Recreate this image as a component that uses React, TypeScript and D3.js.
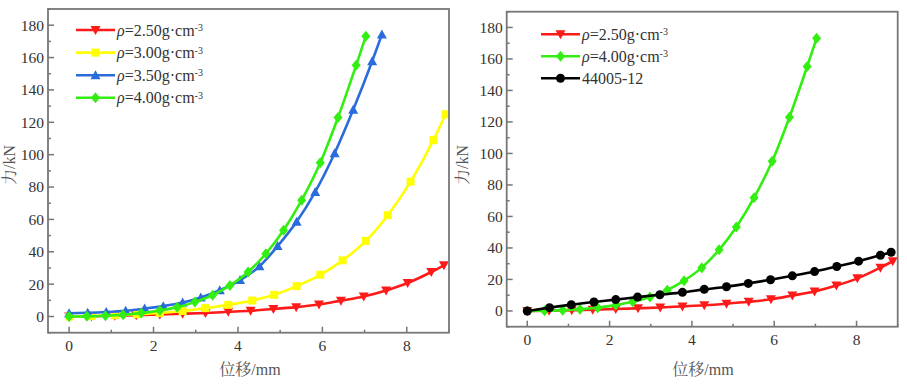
import React from "react";
import * as d3 from "d3";

const redX = [0, 0.53, 1.08, 1.59, 2.15, 2.69, 3.23, 3.77, 4.30, 4.84, 5.38, 5.92, 6.44, 6.98, 7.51, 8.02, 8.58, 8.88];
const redY = [0, 0.2, 0.5, 0.8, 1.2, 1.7, 2.2, 2.9, 3.6, 4.6, 5.8, 7.4, 9.8, 12.4, 16.1, 20.7, 27.5, 31.6];
const yellowX = [0, 0.53, 1.08, 1.61, 2.15, 2.69, 3.23, 3.77, 4.34, 4.86, 5.39, 5.95, 6.48, 7.03, 7.55, 8.09, 8.63, 8.92];
const yellowY = [0, 0.3, 0.8, 1.4, 2.2, 3.4, 5.2, 7.2, 9.9, 13.4, 18.8, 25.8, 34.7, 46.7, 62.6, 83.3, 109, 125];
const blueX = [0, 0.44, 0.88, 1.34, 1.79, 2.23, 2.69, 3.12, 3.57, 4.05, 4.51, 4.94, 5.39, 5.83, 6.29, 6.73, 7.18, 7.41];
const blueY = [2.0, 2.3, 2.8, 3.6, 4.9, 6.4, 8.6, 11.8, 16.2, 22.5, 31.0, 43.5, 58.5, 77, 100.9, 127.7, 157.7, 174.2];
const greenX = [0, 0.42, 0.86, 1.28, 1.71, 2.15, 2.56, 2.98, 3.40, 3.81, 4.24, 4.66, 5.08, 5.51, 5.95, 6.37, 6.80, 7.03];
const greenY = [0, 0.1, 0.5, 1.1, 2.1, 3.7, 5.8, 8.9, 13.2, 19.2, 27.5, 38.8, 53.3, 71.9, 95, 123, 155.2, 173.2];
const blackX = [0, 0.54, 1.07, 1.62, 2.15, 2.68, 3.22, 3.77, 4.30, 4.84, 5.37, 5.91, 6.44, 6.98, 7.52, 8.05, 8.58, 8.84];
const blackY = [0, 2.1, 4.0, 5.7, 7.2, 8.8, 10.3, 11.8, 13.7, 15.4, 17.5, 19.8, 22.3, 25.0, 28.2, 31.6, 35.4, 37.3];

const xTicks = [0, 2, 4, 6, 8];
const yTicks = [0, 20, 40, 60, 80, 100, 120, 140, 160, 180];
const xMinor = [1, 3, 5, 7, 9];
const yMinor = [-10, 10, 30, 50, 70, 90, 110, 130, 150, 170, 190];

const xTitle = "位移/mm";
const yTitle = "力/kN";

type Series = { name: string; sub?: string; xs: number[]; ys: number[]; color: string; marker: string };

const sRed: Series = { name: "=2.50g·cm", sub: "-3", xs: redX, ys: redY, color: "#ff1a1a", marker: "down" };
const sYellow: Series = { name: "=3.00g·cm", sub: "-3", xs: yellowX, ys: yellowY, color: "#ffff00", marker: "square" };
const sBlue: Series = { name: "=3.50g·cm", sub: "-3", xs: blueX, ys: blueY, color: "#2a6cdc", marker: "up" };
const sGreen: Series = { name: "=4.00g·cm", sub: "-3", xs: greenX, ys: greenY, color: "#33ee11", marker: "diamond" };
const sBlack: Series = { name: "44005-12", xs: blackX, ys: blackY, color: "#000000", marker: "circle" };

const FAM = "Liberation Serif, Noto Serif CJK SC, Noto Sans CJK SC";

function Marker({ type, x, y, color }: { type: string; x: number; y: number; color: string }) {
  const r = 4.5;
  if (type === "circle") return <circle cx={x} cy={y} r={r} fill={color} />;
  if (type === "square") return <rect x={x - 4} y={y - 4} width={8} height={8} fill={color} />;
  if (type === "up") return <path d={`M${x},${y - 5}L${x + 5},${y + 4}L${x - 5},${y + 4}Z`} fill={color} />;
  if (type === "down") return <path d={`M${x},${y + 5}L${x + 5},${y - 4}L${x - 5},${y - 4}Z`} fill={color} />;
  return <path d={`M${x},${y - 5.5}L${x + 4.5},${y}L${x},${y + 5.5}L${x - 4.5},${y}Z`} fill={color} />;
}

function Panel({ box, series, legend, ox, titleX, yTitleX }: any) {
  const x = d3.scaleLinear().domain([-0.5, 9]).range([box.x0, box.x1]);
  const y = d3.scaleLinear().domain([-10, 190]).range([box.y1, box.y0]);
  const line = d3.line<[number, number]>().x((d) => x(d[0])).y((d) => y(d[1])).curve(d3.curveMonotoneX);
  const tickColor = "#777";
  return (
    <g>
      <defs>
        <clipPath id={`clip${ox}`}>
          <rect x={box.x0} y={box.y0} width={box.x1 - box.x0} height={box.y1 - box.y0} />
        </clipPath>
      </defs>
      <g clipPath={`url(#clip${ox})`}>
        {series.map((s: Series, i: number) => (
          <g key={i}>
            <path d={line(s.xs.map((v, j) => [v, s.ys[j]] as [number, number])) || ""} fill="none" stroke={s.color} strokeWidth={2.6} />
            {s.xs.map((v, j) => (
              <Marker key={j} type={s.marker} x={x(v)} y={y(s.ys[j])} color={s.color} />
            ))}
          </g>
        ))}
      </g>
      <rect x={box.x0} y={box.y0} width={box.x1 - box.x0} height={box.y1 - box.y0} fill="none" stroke={tickColor} strokeWidth={1.8} />
      {xTicks.map((t) => (
        <g key={t}>
          <line x1={x(t)} x2={x(t)} y1={box.y1} y2={box.y1 - 6} stroke={tickColor} strokeWidth={1.5} />
          <text x={x(t)} y={box.y1 + 18} textAnchor="middle" style={{ fontFamily: FAM }} fontSize={15.5} fill="#333">{t}</text>
        </g>
      ))}
      {xMinor.map((t) => (
        <line key={t} x1={x(t)} x2={x(t)} y1={box.y1} y2={box.y1 - 3} stroke={tickColor} strokeWidth={1.5} />
      ))}
      {yTicks.map((t) => (
        <g key={t}>
          <line x1={box.x0} x2={box.x0 + 6} y1={y(t)} y2={y(t)} stroke={tickColor} strokeWidth={1.5} />
          <text x={box.x0 - 4} y={y(t)} dy="0.35em" textAnchor="end" style={{ fontFamily: FAM }} fontSize={15.5} fill="#333">{t}</text>
        </g>
      ))}
      {yMinor.map((t) => (
        <line key={t} x1={box.x0} x2={box.x0 + 3} y1={y(t)} y2={y(t)} stroke={tickColor} strokeWidth={1.5} />
      ))}
      <text x={titleX} y={375} textAnchor="middle" style={{ fontFamily: FAM }} fontSize={16} fill="#555">{xTitle}</text>
      <text transform={`translate(${yTitleX},165) rotate(-90)`} textAnchor="middle" style={{ fontFamily: FAM }} fontSize={16} fill="#555">{yTitle}</text>
      {series.map((s: Series, i: number) => {
        const ly = legend.y + i * legend.dy;
        return (
          <g key={i}>
            <line x1={legend.x} x2={legend.x + 39} y1={ly} y2={ly} stroke={s.color} strokeWidth={2.6} />
            <Marker type={s.marker} x={legend.x + 19.5} y={ly} color={s.color} />
            <text x={legend.x + 41} y={ly} dy="0.35em" style={{ fontFamily: FAM }} fontSize={16} fill="#333">
              {s.sub ? <tspan fontStyle="italic">ρ</tspan> : null}
              <tspan>{s.name}</tspan>
              {s.sub ? <tspan dy="-0.45em" fontSize={10}>{s.sub}</tspan> : null}
            </text>
          </g>
        );
      })}
    </g>
  );
}

export default function App() {
  return (
    <svg width={907} height={391} style={{ position: "absolute", left: 0, top: 0, background: "#fff" }}>
      <rect width={907} height={391} fill="#fff" />
      <Panel
        box={{ x0: 48, x1: 449, y0: 9, y1: 332.7 }}
        series={[sRed, sYellow, sBlue, sGreen]}
        legend={{ x: 76, y: 30, dy: 22.6 }}
        ox={0}
        titleX={250}
        yTitleX={15}
      />
      <Panel
        box={{ x0: 506.7, x1: 897.7, y0: 11.7, y1: 326.7 }}
        series={[sRed, sGreen, sBlack]}
        legend={{ x: 541, y: 34.3, dy: 22 }}
        ox={1}
        titleX={703}
        yTitleX={468}
      />
    </svg>
  );
}
